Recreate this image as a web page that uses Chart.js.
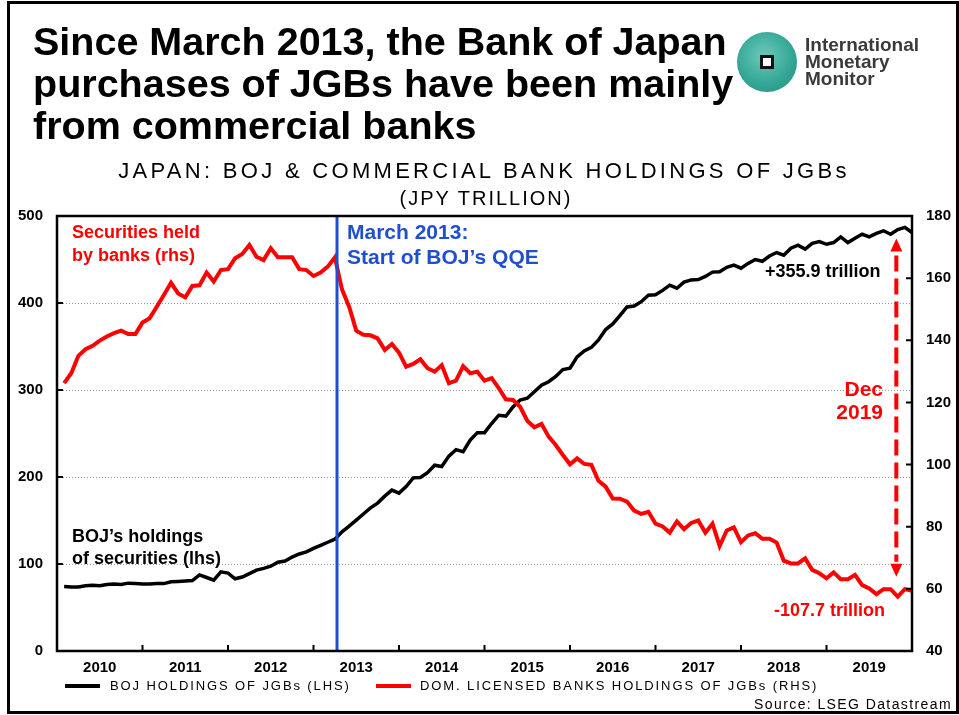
<!DOCTYPE html>
<html lang="en">
<head>
<meta charset="UTF-8">
<title>BOJ vs commercial bank JGB holdings</title>
<script src="https://cdn.jsdelivr.net/npm/chart.js@4.4.1/dist/chart.umd.min.js"></script>
<style>
    html, body { margin: 0; padding: 0; background: #fff; }
    #page { position: relative; width: 959px; height: 715px; overflow: hidden; background: #fff; }
    #frame { position: absolute; left: 7px; top: 1px; width: 946px; height: 707px; border: 3px solid #000; pointer-events: none; }
    #chart { position: absolute; left: 0; top: 0; }
    .t { position: absolute; white-space: nowrap; font-family: Arial, "Liberation Sans", sans-serif; }
    .b { font-weight: bold; }
    .red { color: #ff0000; }
    .blue { color: #1f4fd1; }
    #logoCircle { position: absolute; left: 737px; top: 32px; width: 60px; height: 60px; border-radius: 50%;
        background: radial-gradient(circle at 45% 40%, #6cc9b9 0%, #36a897 55%, #1f8c7d 100%); }
    #logoSq { position: absolute; left: 23px; top: 23px; width: 8px; height: 8px; border: 3px solid #111; background: #fff; }
    .swatch { position: absolute; height: 4px; }
</style>
</head>
<body>
<div id="page">
    <canvas id="chart" width="959" height="715"></canvas>

    <div class="t b" style="left:33px; top:20px; font-size:39.5px; line-height:42px; color:#000;">Since March 2013, the Bank of Japan<br>purchases of JGBs have been mainly<br>from commercial banks</div>

    <div id="logoCircle"><div id="logoSq"></div></div>
    <div class="t b" style="left:805px; top:36px; font-size:19px; line-height:17px; color:#3a3a3a;">International<br>Monetary<br>Monitor</div>

    <div class="t" style="left:484px; top:158px; transform:translateX(-50%); font-size:22px; line-height:25px; letter-spacing:3.3px; color:#000;">JAPAN: BOJ &amp; COMMERCIAL BANK HOLDINGS OF JGBs</div>
    <div class="t" style="left:486px; top:186px; transform:translateX(-50%); font-size:20px; line-height:24px; letter-spacing:2px; color:#000;">(JPY TRILLION)</div>

    <div class="t b red" style="left:72px; top:221px; font-size:18px; line-height:22.5px;">Securities held<br>by banks (rhs)</div>
    <div class="t b blue" style="left:347px; top:219px; font-size:21px; line-height:25px;">March 2013:<br>Start of BOJ’s QQE</div>
    <div class="t b" style="left:765px; top:259px; font-size:18px; line-height:24px; color:#000;">+355.9 trillion</div>
    <div class="t b red" style="right:76px; top:377px; font-size:21px; line-height:23px; text-align:right;">Dec<br>2019</div>
    <div class="t b red" style="left:774px; top:598px; font-size:18px; line-height:24px;">-107.7 trillion</div>
    <div class="t b" style="left:72px; top:525px; font-size:18px; line-height:22px; color:#000;">BOJ’s holdings<br>of securities (lhs)</div>

    <div class="swatch" style="left:65px; top:684px; width:35px; background:#000;"></div>
    <div class="t" style="left:110px; top:678px; font-size:13px; line-height:16px; letter-spacing:1.9px; color:#000;">BOJ HOLDINGS OF JGBs (LHS)</div>
    <div class="swatch" style="left:376px; top:684px; width:35px; background:#ff0000;"></div>
    <div class="t" style="left:420px; top:678px; font-size:13px; line-height:16px; letter-spacing:1.9px; color:#000;">DOM. LICENSED BANKS HOLDINGS OF JGBs (RHS)</div>
    <div class="t" style="right:7px; top:696px; font-size:14px; line-height:17px; letter-spacing:1.4px; color:#000;">Source: LSEG Datastream</div>

    <div id="frame"></div>
</div>

<script>
// month-end values, Jan 2010 .. Dec 2019 (JPY trillion)
const years = ['2010', '2011', '2012', '2013', '2014', '2015', '2016', '2017', '2018', '2019'];

const bojHoldings = [
    74, 73.5, 73.6, 75, 75.5, 75, 76.5, 77, 76.5, 78, 77.5, 77,
    77, 77.5, 77.5, 79.5, 80, 80.5, 81, 87.5, 84.5, 81.5, 91, 89.5,
    83, 85, 89, 93, 95, 97.5, 102, 103.5, 108, 111.5, 114, 118,
    121.5, 125, 128.5, 137, 143.5, 150.5, 157.5, 164.5, 170, 178, 185, 181.5,
    189, 199, 199.5, 205, 213.5, 212, 224, 231.5, 229, 242.5, 251, 251,
    261.5, 271, 270, 280.5, 288.5, 290.5, 298, 305.5, 309.5, 315.5, 323.5, 325,
    338, 345, 349, 357.5, 369.5, 376, 385.5, 395.5, 396.5, 401.5, 409, 409.5,
    414.5, 420.5, 417, 424, 426.5, 427, 430.5, 435.5, 436, 441, 443.5, 440,
    445.5, 450, 448, 454, 458, 455, 463, 466.5, 462, 468.5, 470.5, 467.5,
    469.5, 476, 469.5, 474.5, 479, 476, 480, 483, 479, 484.5, 487, 481
];

const bankHoldings = [
    126.2, 129.4, 135, 137.1, 138.2, 139.9, 141.2, 142.3, 143.1, 142, 142, 145.7,
    147.1, 150.8, 154.6, 158.5, 155.1, 153.8, 157.5, 157.7, 161.8, 158.9, 162.6, 162.9,
    166.4, 167.8, 170.7, 166.9, 165.8, 169.6, 166.7, 166.7, 166.7, 162.9, 162.6, 160.7,
    161.8, 163.7, 166.7, 156.4, 150.8, 143.1, 141.8, 141.6, 140.6, 136.9, 138.8, 136,
    131.5, 132.4, 133.9, 131, 129.9, 132, 126.2, 127, 131.7, 129.4, 129.9, 127,
    127.8, 124.6, 121, 120.8, 118.6, 114.1, 112, 113.1, 109, 106.3, 103.1, 100.1,
    102, 100.2, 99.9, 94.8, 92.9, 89.1, 89, 88.1, 85.2, 84.1, 84.8, 81,
    80.1, 78.1, 81.7, 79.2, 81.2, 82, 78.1, 81, 73.8, 78.8, 79.8, 75,
    77.2, 77.9, 76.1, 76.1, 74.9, 69.1, 68.2, 68.2, 69.8, 66.1, 65, 63.4,
    65.3, 63.1, 63.1, 64.5, 61.2, 60.1, 58.3, 59.9, 59.9, 57.5, 59.9, 59.4
];

const leftTicks = [0, 100, 200, 300, 400, 500];
const rightTicks = [40, 60, 80, 100, 120, 140, 160, 180];
const qqeStart = 39.3;      // March 2013, in months from Jan 2010
const arrowMonth = 117.8;   // where the Dec 2019 arrow sits

const RED = '#ff0000';
const BLUE = '#1f4fd1';

// blue QQE line, plot frame, inward tick marks and the dashed arrow
const decor = {
    id: 'decor',
    afterDatasetsDraw(chart) {
        const ctx = chart.ctx;
        const a = chart.chartArea;
        const sx = chart.scales.x, sy = chart.scales.y, sy1 = chart.scales.y1;
        ctx.save();

        // QQE line
        const qx = sx.getPixelForValue(qqeStart);
        ctx.strokeStyle = BLUE;
        ctx.lineWidth = 3;
        ctx.beginPath();
        ctx.moveTo(qx, a.top);
        ctx.lineTo(qx, a.bottom);
        ctx.stroke();

        // frame
        ctx.strokeStyle = '#000';
        ctx.lineWidth = 2.5;
        ctx.strokeRect(a.left, a.top, a.right - a.left, a.bottom - a.top);

        // tick marks, pointing into the plot
        ctx.lineWidth = 2;
        ctx.beginPath();
        for (let k = 1; k < years.length; k++) {
            const px = sx.getPixelForValue(k * 12);
            ctx.moveTo(px, a.bottom);
            ctx.lineTo(px, a.bottom - 6);
        }
        leftTicks.slice(1, -1).forEach(v => {
            const py = sy.getPixelForValue(v);
            ctx.moveTo(a.left, py);
            ctx.lineTo(a.left + 6, py);
        });
        rightTicks.slice(1, -1).forEach(v => {
            const py = sy1.getPixelForValue(v);
            ctx.moveTo(a.right, py);
            ctx.lineTo(a.right - 6, py);
        });
        ctx.stroke();

        // dashed double arrow between the two end values
        const ax = sx.getPixelForValue(arrowMonth);
        const topTip = sy.getPixelForValue(bojHoldings[bojHoldings.length - 1]) + 6;
        const botTip = sy1.getPixelForValue(bankHoldings[bankHoldings.length - 1]) - 14;
        const head = 13, half = 6;
        ctx.strokeStyle = RED;
        ctx.fillStyle = RED;
        ctx.lineWidth = 4;
        ctx.setLineDash([16, 7]);
        ctx.beginPath();
        ctx.moveTo(ax, topTip + head + 4);
        ctx.lineTo(ax, botTip - head - 2);
        ctx.stroke();
        ctx.setLineDash([]);
        ctx.beginPath();
        ctx.moveTo(ax, topTip);
        ctx.lineTo(ax - half, topTip + head);
        ctx.lineTo(ax + half, topTip + head);
        ctx.closePath();
        ctx.fill();
        ctx.beginPath();
        ctx.moveTo(ax, botTip);
        ctx.lineTo(ax - half, botTip - head);
        ctx.lineTo(ax + half, botTip - head);
        ctx.closePath();
        ctx.fill();

        ctx.restore();
    }
};

const tickFont = { family: 'Arial, "Liberation Sans", sans-serif', size: 15, weight: 'bold' };

new Chart(document.getElementById('chart'), {
    type: 'line',
    data: {
        datasets: [
            {
                label: 'BOJ HOLDINGS OF JGBs (LHS)',
                data: bojHoldings.map((v, i) => ({ x: i + 1, y: v })),
                yAxisID: 'y',
                borderColor: '#000',
                borderWidth: 3.5,
                pointRadius: 0,
                tension: 0,
                order: 1
            },
            {
                label: 'DOM. LICENSED BANKS HOLDINGS OF JGBs (RHS)',
                data: bankHoldings.map((v, i) => ({ x: i + 1, y: v })),
                yAxisID: 'y1',
                borderColor: RED,
                borderWidth: 4,
                pointRadius: 0,
                tension: 0,
                order: 0
            }
        ]
    },
    options: {
        responsive: false,
        animation: false,
        layout: { padding: { top: 216, bottom: 34, left: 0, right: 0 } },
        plugins: {
            legend: { display: false },
            tooltip: { enabled: false }
        },
        scales: {
            x: {
                type: 'linear',
                min: 0,
                max: 120,
                afterBuildTicks: s => { s.ticks = years.map((_, k) => ({ value: 6 + 12 * k })); },
                afterFit: s => { s.height = 30; },
                ticks: {
                    callback: v => years[(v - 6) / 12],
                    font: tickFont,
                    color: '#000',
                    maxRotation: 0,
                    autoSkip: false,
                    padding: 0
                },
                grid: { display: false },
                border: { display: false }
            },
            y: {
                position: 'left',
                min: 0,
                max: 500,
                afterBuildTicks: s => { s.ticks = leftTicks.map(v => ({ value: v })); },
                afterFit: s => { s.width = 57; },
                ticks: { font: tickFont, color: '#000', padding: 14 },
                grid: {
                    drawTicks: false,
                    lineWidth: 1,
                    color: c => (c.tick && c.tick.value > 0 && c.tick.value < 500) ? '#9a9a9a' : 'rgba(0,0,0,0)'
                },
                border: { display: false, dash: [1, 2] }
            },
            y1: {
                position: 'right',
                min: 40,
                max: 180,
                afterBuildTicks: s => { s.ticks = rightTicks.map(v => ({ value: v })); },
                afterFit: s => { s.width = 47; },
                ticks: { font: tickFont, color: '#000', padding: 14 },
                grid: { drawOnChartArea: false, drawTicks: false },
                border: { display: false }
            }
        }
    },
    plugins: [decor]
});
</script>
</body>
</html>
